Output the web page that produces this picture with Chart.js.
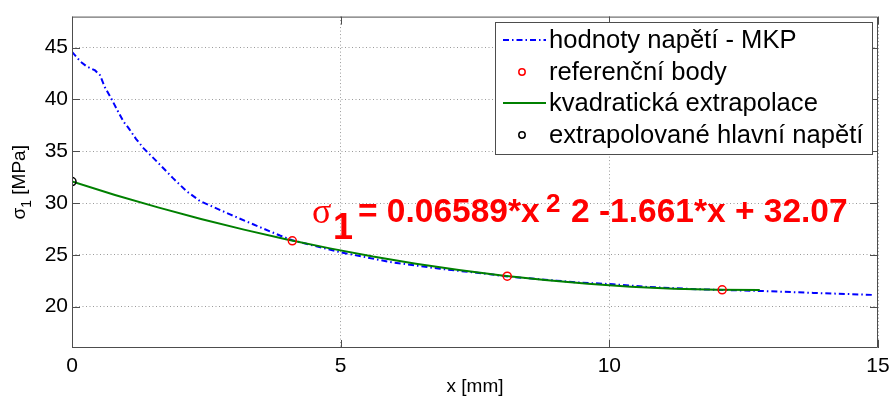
<!DOCTYPE html>
<html lang="cs">
<head>
<meta charset="UTF-8">
<title>Extrapolace hlavního napětí</title>
<script src="https://cdn.jsdelivr.net/npm/chart.js@4.4.0/dist/chart.umd.min.js"></script>
<style>
    body { margin: 0; background: #fff; }
    #wrap { width: 891px; height: 396px; }
</style>
</head>
<body>
<div id="wrap"><canvas id="sigmaChart" width="891" height="396"></canvas></div>
<script>
    // napětí z MKP podél cesty
    const mkpX = [0, 0.16, 0.27, 0.43, 0.52, 0.61, 0.74, 0.86, 0.96, 1.05, 1.19, 1.33, 1.58, 1.88, 2.13, 2.38,
        2.94, 3.37, 3.87, 4.1, 4.99, 5.92, 6.85, 7.78, 8.1, 9.02, 9.45, 10.07, 10.7, 11.63, 12.12, 12.87, 13.8, 14.94];
    const mkpY = [44.6, 43.65, 43.2, 42.8, 42.35, 41.2, 40.0, 38.8, 37.85, 37.26, 36.2, 35.3, 34.0, 32.4, 31.15, 30.2,
        28.9, 27.95, 26.86, 26.4, 25.25, 24.3, 23.65, 23.12, 22.9, 22.5, 22.32, 22.16, 21.9, 21.68, 21.6, 21.5, 21.32, 21.12];

    // referenční body
    const refX = [4.1, 8.1, 12.1];
    const refY = [26.35, 22.94, 21.62];

    // kvadratická extrapolace
    const fitX = [0, 0.8, 1.6, 2.4, 3.2, 4.0, 4.8, 5.6, 6.4, 7.2, 8.0, 8.8, 9.6, 10.4, 11.2, 12.0, 12.8];
    const fitY = [32.07, 30.78, 29.58, 28.46, 27.43, 26.48, 25.62, 24.83, 24.14, 23.53, 23.00, 22.56, 22.20, 21.92, 21.73, 21.63, 21.60];

    // extrapolovaná hodnota v x = 0
    const extrX = [0];
    const extrY = [32.07];

    const xTicks = [0, 5, 10, 15];
    const yTicks = [20, 25, 30, 35, 40, 45];

    const FONT = "'Liberation Sans', Arial, sans-serif";
    const AXIS = '#4d4d4d';

    const pts = (xs, ys) => xs.map((v, i) => ({ x: v, y: ys[i] }));

    const datasets = [
        {
            label: 'hodnoty napětí - MKP',
            data: pts(mkpX, mkpY),
            showLine: true,
            borderColor: '#0000ff',
            borderWidth: 2,
            borderDash: [6, 3, 1.5, 3],
            pointRadius: 0,
            order: 3
        },
        {
            label: 'referenční body',
            data: pts(refX, refY),
            showLine: false,
            borderColor: '#ff0000',
            backgroundColor: 'rgba(0,0,0,0)',
            borderWidth: 1.5,
            pointRadius: 4,
            order: 1
        },
        {
            label: 'kvadratická extrapolace',
            data: pts(fitX, fitY),
            showLine: true,
            borderColor: '#008000',
            borderWidth: 2,
            pointRadius: 0,
            order: 2
        },
        {
            label: 'extrapolované hlavní napětí',
            data: pts(extrX, extrY),
            showLine: false,
            borderColor: '#000000',
            backgroundColor: 'rgba(0,0,0,0)',
            borderWidth: 1.5,
            pointRadius: 4,
            order: 0
        }
    ];

    // rámeček os a ticky dovnitř
    const frame = {
        id: 'frame',
        afterDatasetsDraw(chart) {
            const { ctx, chartArea: a, scales: { x, y } } = chart;
            const L = 8;
            ctx.save();
            ctx.strokeStyle = AXIS;
            ctx.lineWidth = 1;
            ctx.beginPath();
            xTicks.forEach(v => {
                const px = Math.round(x.getPixelForValue(v)) + 0.5;
                ctx.moveTo(px, a.bottom); ctx.lineTo(px, a.bottom - L);
                ctx.moveTo(px, a.top); ctx.lineTo(px, a.top + L);
            });
            yTicks.forEach(v => {
                const py = Math.round(y.getPixelForValue(v)) + 0.5;
                ctx.moveTo(a.left, py); ctx.lineTo(a.left + L, py);
                ctx.moveTo(a.right, py); ctx.lineTo(a.right - L, py);
            });
            ctx.rect(a.left + 0.5, a.top + 0.5, a.right - a.left - 1, a.bottom - a.top - 1);
            ctx.stroke();
            ctx.restore();
        }
    };

    // legenda uvnitř grafu
    const boxLegend = {
        id: 'boxLegend',
        afterDatasetsDraw(chart) {
            const { ctx } = chart;
            const bx = 495, by = 22, bw = 377, bh = 132;
            const rows = [40, 72, 103, 135];
            ctx.save();
            ctx.fillStyle = '#fff';
            ctx.fillRect(bx, by, bw, bh);
            ctx.strokeStyle = AXIS;
            ctx.lineWidth = 1;
            ctx.strokeRect(bx + 0.5, by + 0.5, bw, bh);
            chart.data.datasets.forEach((ds, i) => {
                const ry = rows[i];
                ctx.strokeStyle = ds.borderColor;
                if (ds.showLine) {
                    ctx.lineWidth = ds.borderWidth;
                    ctx.setLineDash(ds.borderDash || []);
                    ctx.beginPath();
                    ctx.moveTo(503, ry); ctx.lineTo(546, ry);
                    ctx.stroke();
                    ctx.setLineDash([]);
                } else {
                    ctx.lineWidth = ds.borderWidth;
                    ctx.beginPath();
                    ctx.arc(522, ry, 3.2, 0, Math.PI * 2);
                    ctx.stroke();
                }
                ctx.fillStyle = '#000';
                ctx.font = '25.6px ' + FONT;
                ctx.textBaseline = 'middle';
                ctx.textAlign = 'left';
                ctx.fillText(ds.label, 549, ry + 1);
            });
            ctx.restore();
        }
    };

    // rovnice proložení a popis osy y
    const texts = {
        id: 'texts',
        afterDraw(chart) {
            const { ctx } = chart;
            ctx.save();
            ctx.fillStyle = '#ff0000';
            ctx.textBaseline = 'alphabetic';
            ctx.textAlign = 'left';
            ctx.font = "36px 'Liberation Serif', serif";
            ctx.fillText('σ', 312, 223);
            ctx.font = 'bold 36px ' + FONT;
            ctx.fillText('1', 333, 239);
            ctx.font = 'bold 33.5px ' + FONT;
            ctx.fillText('= 0.06589*x', 358, 222);
            ctx.font = 'bold 26px ' + FONT;
            ctx.fillText('2', 546, 212);
            ctx.font = 'bold 33.5px ' + FONT;
            ctx.fillText('2 -1.661*x + 32.07', 571, 222);

            // σ1 [MPa]
            const a = chart.chartArea;
            const big = '19px ' + FONT, small = '14px ' + FONT;
            ctx.fillStyle = '#000';
            ctx.translate(25, (a.top + a.bottom) / 2);
            ctx.rotate(-Math.PI / 2);
            ctx.font = big;
            const w1 = ctx.measureText('σ').width;
            const w3 = ctx.measureText(' [MPa]').width;
            ctx.font = small;
            const w2 = ctx.measureText('1').width;
            let sx = -(w1 + w2 + w3) / 2;
            ctx.font = big;
            ctx.fillText('σ', sx, 0);
            sx += w1;
            ctx.font = small;
            ctx.fillText('1', sx, 6);
            sx += w2;
            ctx.font = big;
            ctx.fillText(' [MPa]', sx, 0);
            ctx.restore();
        }
    };

    new Chart(document.getElementById('sigmaChart'), {
        type: 'scatter',
        data: { datasets },
        options: {
            responsive: false,
            animation: false,
            layout: { padding: { left: 0, top: 14, right: 0, bottom: 0 } },
            plugins: { legend: { display: false }, tooltip: { enabled: false } },
            scales: {
                x: {
                    type: 'linear',
                    min: 0,
                    max: 15,
                    afterBuildTicks: s => { s.ticks = xTicks.map(v => ({ value: v })); },
                    afterFit: s => { s.height = 48; s.paddingLeft = 0; s.paddingRight = 13; },
                    grid: { color: '#9a9a9a', lineWidth: 1, drawTicks: false },
                    border: { display: false, dash: [1, 2.5] },
                    ticks: { color: '#000', font: { family: FONT, size: 21 }, padding: 6, maxRotation: 0 },
                    title: { display: true, text: 'x [mm]', color: '#000', font: { family: FONT, size: 19 }, padding: { top: 0, bottom: -2 } }
                },
                y: {
                    type: 'linear',
                    min: 16,
                    max: 48,
                    afterBuildTicks: s => { s.ticks = yTicks.map(v => ({ value: v })); },
                    afterFit: s => { s.width = 72; },
                    grid: { color: '#9a9a9a', lineWidth: 1, drawTicks: false },
                    border: { display: false, dash: [1, 2.5] },
                    ticks: { color: '#000', font: { family: FONT, size: 21 }, padding: 4 }
                }
            }
        },
        plugins: [frame, boxLegend, texts]
    });
</script>
</body>
</html>
